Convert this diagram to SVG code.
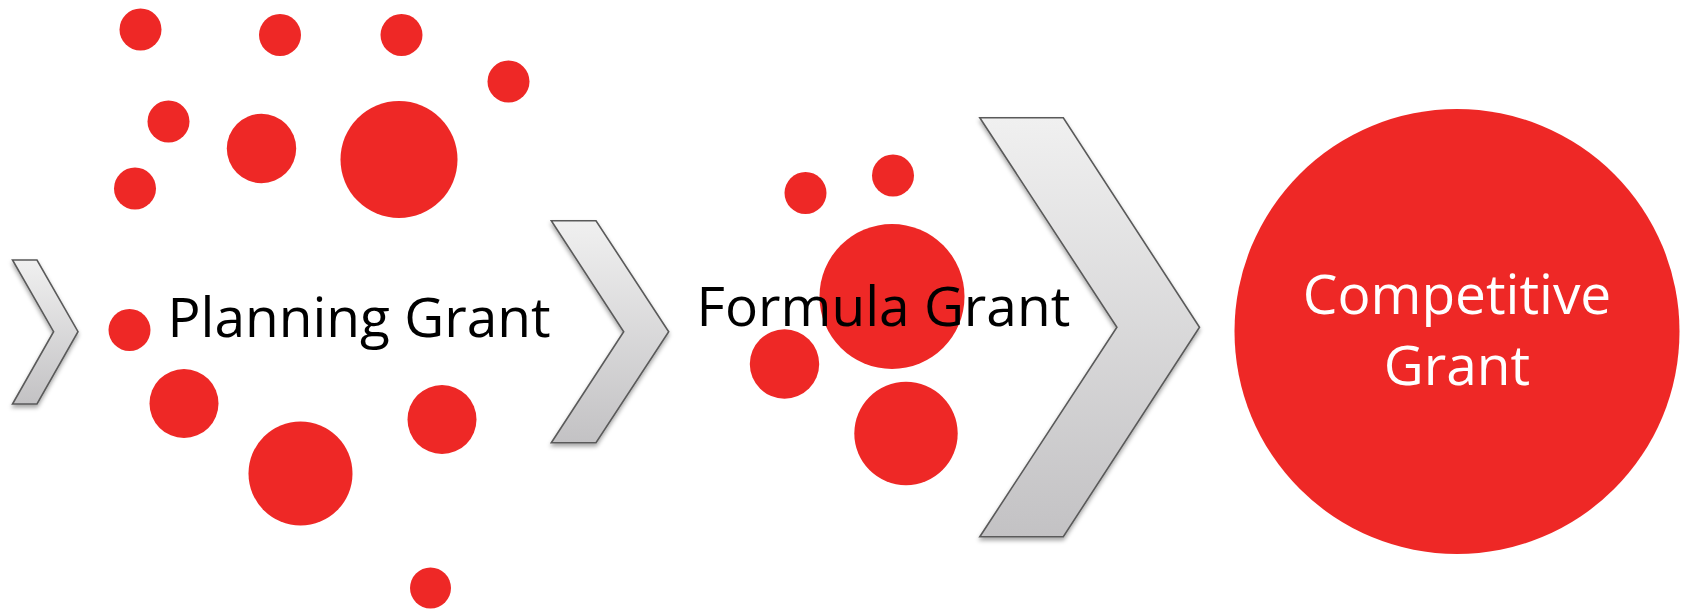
<svg xmlns="http://www.w3.org/2000/svg" width="1688" height="610" viewBox="0 0 1688 610">
  <style>
    .dot { fill: #EE2826; }
    .chev { stroke: #5a5a5a; stroke-width: 1.6; stroke-linejoin: miter; filter: url(#shade); }
    .label { font-family: "Open Sans", "Liberation Sans", sans-serif; font-size: 55px; text-anchor: middle; }
    .dark { fill: #000000; }
    .light { fill: #FFFFFF; }
  </style>
  <defs>
    <linearGradient id="steel" x1="0" y1="0" x2="0" y2="1">
      <stop offset="0" stop-color="#F0F0F0"/>
      <stop offset="1" stop-color="#C3C2C4"/>
    </linearGradient>
    <filter id="shade" x="-20%" y="-10%" width="140%" height="130%">
      <feDropShadow dx="0" dy="3" stdDeviation="2" flood-color="#000000" flood-opacity="0.35"/>
    </filter>
  </defs>

  <rect width="1688" height="610" fill="#FFFFFF"/>

  <!-- scattered dots around the first stage -->
  <g id="planning-dots">
    <circle class="dot" cx="140.5" cy="29.5" r="21"/>
    <circle class="dot" cx="280" cy="35" r="21"/>
    <circle class="dot" cx="401.5" cy="35" r="21"/>
    <circle class="dot" cx="508.5" cy="81.5" r="21"/>
    <circle class="dot" cx="168.5" cy="121.5" r="21"/>
    <circle class="dot" cx="261.5" cy="148.5" r="34.7"/>
    <circle class="dot" cx="399" cy="159.5" r="58.5"/>
    <circle class="dot" cx="135" cy="188.5" r="21"/>
    <circle class="dot" cx="129.5" cy="330" r="21"/>
    <circle class="dot" cx="184" cy="403.5" r="34.5"/>
    <circle class="dot" cx="442" cy="419.5" r="34.5"/>
    <circle class="dot" cx="300.5" cy="473.5" r="52"/>
    <circle class="dot" cx="430.5" cy="588" r="20.5"/>
  </g>

  <!-- dots clustered around the second stage -->
  <g id="formula-dots">
    <circle class="dot" cx="805.5" cy="193" r="21"/>
    <circle class="dot" cx="893" cy="175.5" r="21"/>
    <circle class="dot" cx="892" cy="296.5" r="72.5"/>
    <circle class="dot" cx="784.5" cy="364" r="34.7"/>
    <circle class="dot" cx="906" cy="433.5" r="51.7"/>
  </g>

  <!-- chevron arrows between stages -->
  <g id="connectors">
    <polygon class="chev" fill="url(#steel)" points="12.5,260 37,260 78,331.7 37,404 12.5,404 53.6,331.7"/>
    <polygon class="chev" fill="url(#steel)" points="551.3,220.7 596,220.7 668.7,331.7 596,442.7 551.3,442.7 623.7,331.7"/>
    <polygon class="chev" fill="url(#steel)" points="979.8,117.7 1063.3,117.7 1199.5,327.3 1063.3,536.7 979.8,536.7 1116.9,327.3"/>
  </g>

  <g id="planning-grant">
    <text class="label dark" x="359" y="337.3">Planning Grant</text>
  </g>

  <g id="formula-grant">
    <text class="label dark" x="883.4" y="326">Formula Grant</text>
  </g>

  <g id="competitive-grant">
    <circle class="dot" cx="1457" cy="331.5" r="222.5"/>
    <text class="label light" x="1457" y="314">Competitive</text>
    <text class="label light" x="1457" y="384.7">Grant</text>
  </g>
</svg>
